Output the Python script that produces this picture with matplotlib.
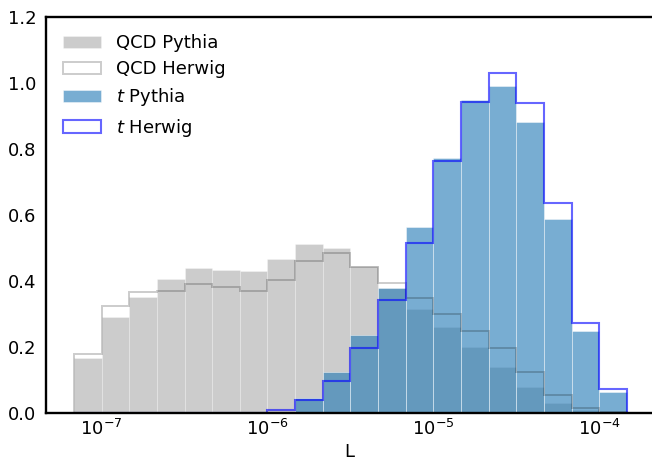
import numpy as np
import matplotlib
matplotlib.use("Agg")
import matplotlib.pyplot as plt

# Log-spaced binning of L: 6 bins per decade
bin_edges = np.logspace(-43 / 6, -23 / 6, 21)
bin_centers = np.sqrt(bin_edges[:-1] * bin_edges[1:])

# Normalised bin contents
qcd_pythia = [0.166, 0.292, 0.352, 0.405, 0.438, 0.432, 0.430, 0.466, 0.511, 0.499,
              0.445, 0.378, 0.314, 0.262, 0.201, 0.140, 0.078, 0.029, 0.009, 0.0]
qcd_herwig = [0.179, 0.325, 0.368, 0.370, 0.390, 0.382, 0.370, 0.403, 0.462, 0.486,
              0.443, 0.395, 0.348, 0.299, 0.248, 0.196, 0.125, 0.054, 0.016, 0.002]
top_pythia = [0.0, 0.0, 0.0, 0.0, 0.0, 0.0, 0.0, 0.004, 0.046, 0.125,
              0.236, 0.378, 0.565, 0.772, 0.950, 0.991, 0.883, 0.588, 0.250, 0.063]
top_herwig = [0.0, 0.0, 0.0, 0.0, 0.0, 0.0, 0.0, 0.009, 0.039, 0.098,
              0.197, 0.342, 0.516, 0.764, 0.942, 1.029, 0.940, 0.637, 0.273, 0.074]

labels = ["QCD Pythia", "QCD Herwig", r"$t$ Pythia", r"$t$ Herwig"]
y_ticks = [0.0, 0.2, 0.4, 0.6, 0.8, 1.0, 1.2]

plt.rcParams["font.size"] = 13

fig = plt.figure(figsize=(6.52, 4.61), dpi=100)
ax = fig.add_axes([46 / 652, 48 / 461, 1 - 46 / 652, (413 - 17) / 461])

ax.hist(bin_centers, bins=bin_edges, weights=qcd_pythia, histtype="bar",
        color="gray", alpha=0.4, ec="white", lw=0.5, label=labels[0])
ax.hist(bin_centers, bins=bin_edges, weights=qcd_herwig, histtype="step",
        color="black", alpha=0.2, lw=1.4, label=labels[1])
ax.hist(bin_centers, bins=bin_edges, weights=top_pythia, histtype="bar",
        color="tab:blue", alpha=0.6, ec="white", lw=0.5, label=labels[2])
ax.hist(bin_centers, bins=bin_edges, weights=top_herwig, histtype="step",
        color="blue", alpha=0.6, lw=1.5, label=labels[3])

ax.set_xscale("log")
ax.set_xlim(10 ** -7.335, 10 ** -3.682)
ax.set_ylim(0, 1.2)
ax.set_yticks(y_ticks)
ax.set_xlabel("L", labelpad=3)

ax.tick_params(axis="y", which="both", length=0, pad=7)
ax.tick_params(axis="x", which="both", length=0, pad=4)
ax.spines["right"].set_visible(False)
for side in ("left", "bottom", "top"):
    ax.spines[side].set_linewidth(1.7)

ax.legend(loc="upper left", frameon=False, handlelength=2.1, labelspacing=0.45,
          borderaxespad=0.55)

fig.savefig("out.png", dpi=100)
